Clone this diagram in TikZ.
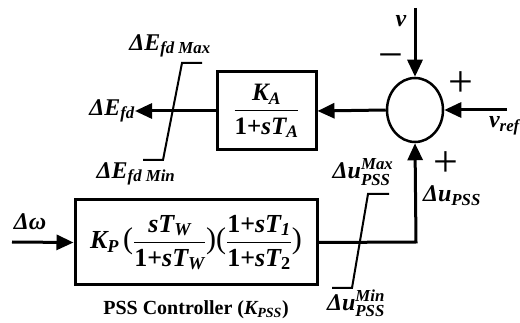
\documentclass[tikz,border=0pt]{standalone}
\usepackage{fontspec}
\usepackage{amsmath}
\setmainfont{Liberation Serif}
\usetikzlibrary{arrows.meta,shapes.geometric}
\newcommand\bi[1]{\text{\bfseries\itshape #1}}
\newcommand\bu[1]{\text{\bfseries #1}}
\newcommand\bp[1]{\text{\fontsize{30}{30}\selectfont #1}}
\tikzset{
  blk/.style={draw, line width=3pt, inner sep=0pt},
  sig/.style={line width=3pt, -{Triangle[length=17pt,width=15pt]}},
  sat/.style={line width=2pt},
  lab/.style={inner sep=0pt, font=\fontsize{24}{26}\selectfont},
  sgn/.style={inner sep=0pt, font=\fontsize{44}{44}\selectfont}
}
\begin{document}
\begin{tikzpicture}[x=1pt,y=-1pt]
\useasboundingbox (0,0) rectangle (520,323);
% summing junction
\node[draw, ellipse, line width=2.5pt, minimum width=56pt, minimum height=64pt, inner sep=0pt] (sum) at (415,110) {};
% blocks
\node[blk, minimum width=99pt, minimum height=78pt, font=\fontsize{25}{27}\selectfont] (ka) at (266.5,111)
  {$\dfrac{\bi{K}_{\bi{A}}}{\bu{1+}\bi{sT}_{\bi{A}}}$};
\node[blk, minimum width=242pt, minimum height=85pt, font=\fontsize{26}{28}\selectfont] (pss) at (196,242.5)
  {$\bi{K}_{\bi{P}}\,\bp{(}\dfrac{\bi{sT}_{\bi{W}}}{\bu{1+}\bi{sT}_{\bi{W}}}\bp{)(}\dfrac{\bu{1+}\bi{sT}_{\bi{1}}}{\bu{1+}\bi{sT}_{\bu{2}}}\bp{)}$};
% labels
\node[lab] (vl) at (401,21) {$\bi{v}$};
\node[lab, anchor=east] (vrefl) at (520,126) {$\bi{v}_{\bi{ref}}$};
\node[lab] (dwl) at (30,222) {$\bi{Δω}$};
\node[lab, anchor=east] (efd) at (135,111) {$\bi{ΔE}_{\bi{fd}}$};
\node[lab] (efdmax) at (170,46) {$\bi{ΔE}_{\bi{fd Max}}$};
\node[lab] (efdmin) at (136,174) {$\bi{ΔE}_{\bi{fd Min}}$};
\node[lab] (umax) at (363,172) {$\bi{Δu}_{\bi{PSS}}^{\bi{Max}}$};
\node[lab] (upss) at (452,196) {$\bi{Δu}_{\bi{PSS}}$};
\node[lab] (umin) at (356,303) {$\bi{Δu}_{\bi{PSS}}^{\bi{Min}}$};
\node[inner sep=0pt, font=\fontsize{20}{22}\selectfont\bfseries] (title) at (196,310)
  {PSS Controller ($\bi{K}_{\bi{PSS}}$)};
% signs
\node[sgn] (minus) at (391,62) {−};
\node[sgn] (plus1) at (461,84) {+};
\node[sgn] (plus2) at (446,164) {+};
% coordinates
\coordinate (vtop) at (415,8);
\coordinate (vrefs) at (507,110);
\coordinate (dws) at (12,242);
\coordinate (corner) at (416,242);
% connectors
\draw[sig] (vtop) -- (sum.north);
\draw[sig] (vrefs) -- (sum.east);
\draw[sig] (sum.west) -- (ka.east);
\draw[sig] (ka.west) -- (efd.east);
\draw[sig] (dws) -- (pss.west);
\draw[sig] (pss.east) -- (corner) -- (sum.south);
% saturation symbols
\draw[sat] (202,63) -- (182,63) -- (163,160) -- (143,160);
\draw[sat] (389,194) -- (368,194) -- (352,288) -- (332,288);
\end{tikzpicture}
\end{document}
